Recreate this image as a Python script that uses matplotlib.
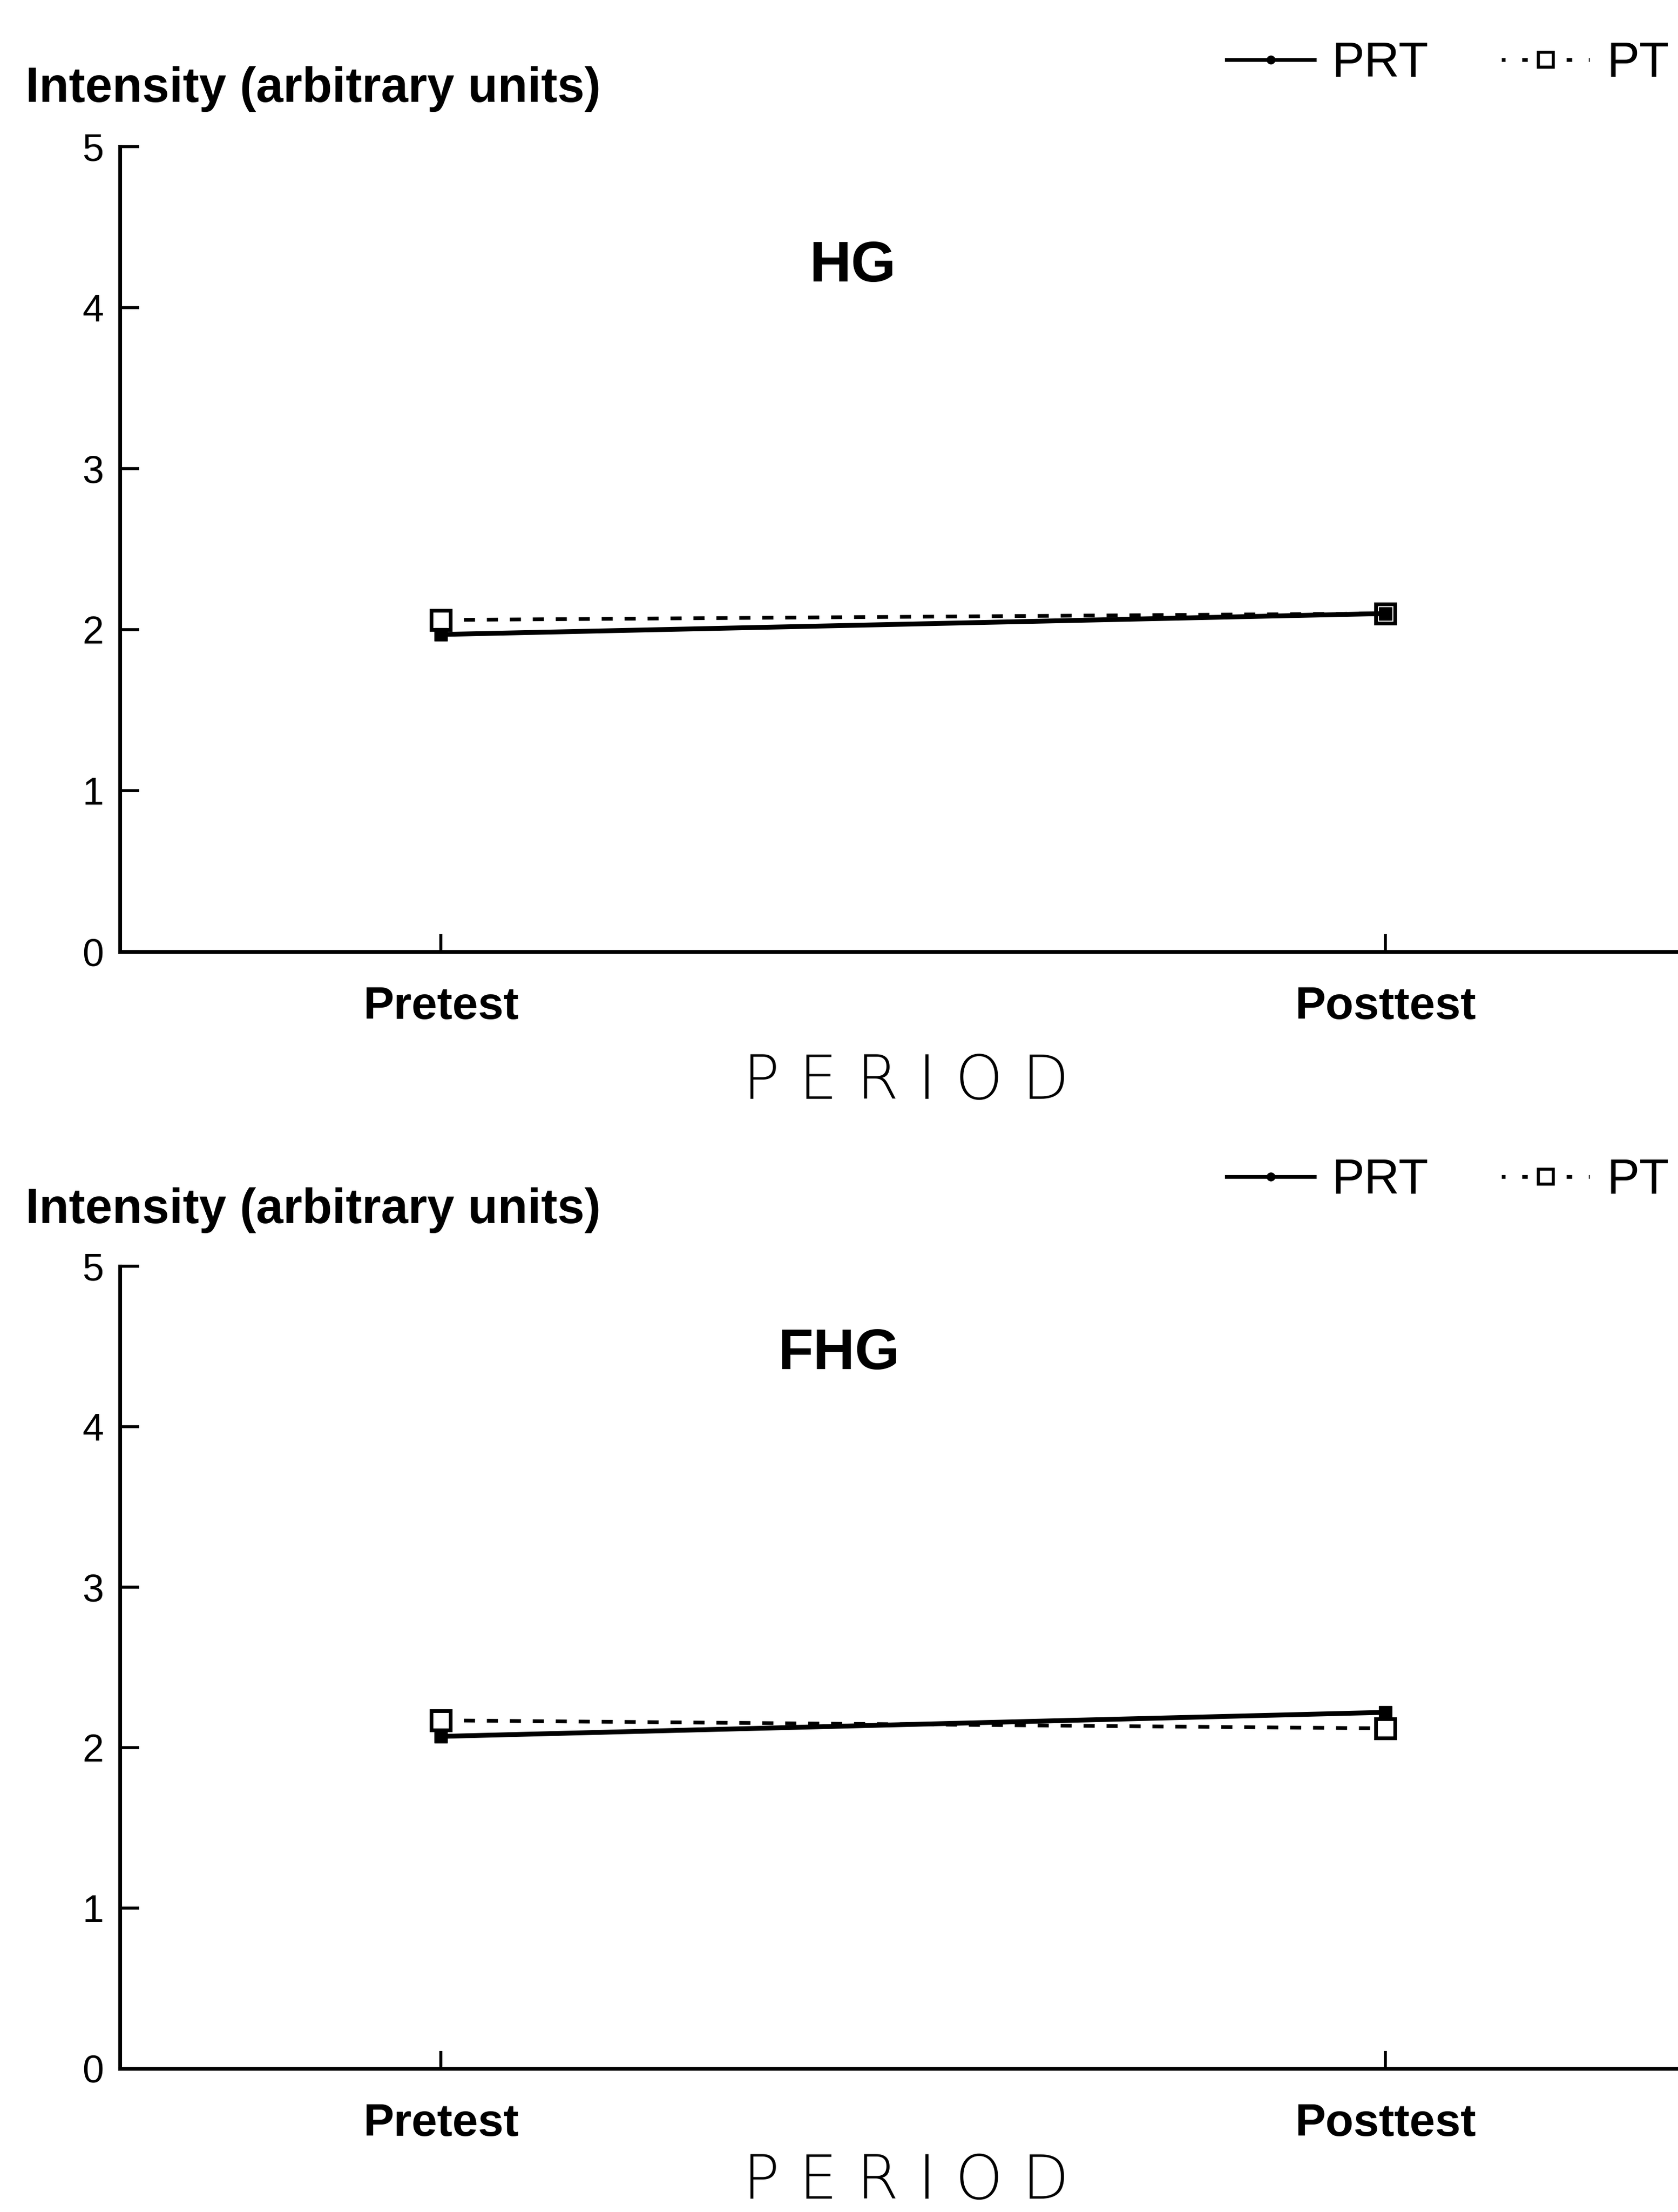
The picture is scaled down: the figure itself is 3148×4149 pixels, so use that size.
import matplotlib
matplotlib.use("Agg")
import matplotlib.pyplot as plt
from matplotlib import font_manager
from matplotlib.lines import Line2D

# ---- data ----
periods = ["Pretest", "Posttest"]
panels = ["HG", "FHG"]
prt_hg = [1.97, 2.10]
pt_hg = [2.06, 2.10]
prt_fhg = [2.07, 2.22]
pt_fhg = [2.17, 2.12]
yticks = [0, 1, 2, 3, 4, 5]
series_names = ["PRT", "PT"]
ylabel_text = "Intensity (arbitrary units)"
xlabel_text = "P E R I O D"

avail = {f.name for f in font_manager.fontManager.ttflist}
narrow = "Liberation Sans Narrow" if "Liberation Sans Narrow" in avail else "Liberation Sans"
plt.rcParams["font.family"] = ["Liberation Sans", "DejaVu Sans"]

W, H = 3148, 4149
fig = plt.figure(figsize=(W / 100, H / 100), dpi=100)

def fx(px):
    return px / W

def fy(py):
    return 1 - py / H

layouts = [
    dict(y0=1785, y5=275, title=(1600, 500), ylab=167, leg=120, per=2030,
         prt=prt_hg, pt=pt_hg, name=panels[0]),
    dict(y0=3880, y5=2375, title=(1574, 2540), ylab=2270, leg=2215, per=4092,
         prt=prt_fhg, pt=pt_fhg, name=panels[1]),
]

x_left, x_right = 225, 3148
for L in layouts:
    ax = fig.add_axes([fx(x_left), fy(L["y0"]), fx(x_right - x_left),
                       (L["y0"] - L["y5"]) / H])
    xs = list(range(len(periods)))
    ax.plot(xs, L["pt"], linestyle=(0, (3, 3.2)), color="black", lw=5,
            marker="s", markersize=26, markerfacecolor="white",
            markeredgecolor="black", markeredgewidth=5, zorder=3,
            label=series_names[1])
    ax.plot(xs, L["prt"], linestyle="-", color="black", lw=6.5,
            marker="s", markersize=17, markerfacecolor="black",
            markeredgecolor="black", zorder=4, label=series_names[0])
    ax.set_xlim(-0.34, 1.31)
    ax.set_ylim(0, 5)
    ax.set_yticks(yticks)
    ax.set_yticklabels([str(v) for v in yticks], fontsize=52)
    ax.set_xticks(xs)
    ax.set_xticklabels(periods, fontsize=62, fontweight="bold")
    ax.tick_params(axis="y", direction="in", length=26, width=4, pad=22)
    ax.tick_params(axis="x", direction="in", length=24, width=4, pad=46)
    for s in ["top", "right"]:
        ax.spines[s].set_visible(False)
    for s in ["left", "bottom"]:
        ax.spines[s].set_linewidth(5)
    ax.set_facecolor("none")

    fig.text(fx(L["title"][0]), fy(L["title"][1]), L["name"], fontsize=78,
             fontweight="bold", ha="center", va="center")
    fig.text(fx(48), fy(L["ylab"]), ylabel_text, fontsize=66,
             fontweight="bold", ha="left", va="center")
    fig.text(fx(1700), fy(L["per"]), xlabel_text, fontsize=82,
             ha="center", va="center", family=["DejaVu Sans"], fontweight="light")

    h_prt = Line2D([], [], color="black", lw=5, marker="o", markersize=11)
    h_pt = Line2D([], [], color="black", lw=5, linestyle=(0.5, (1.5, 4.5)),
                  marker="s", markersize=20, markerfacecolor="white",
                  markeredgewidth=4)
    fig.legend([h_prt, h_pt], series_names, loc="center left",
               bbox_to_anchor=(fx(2301), fy(L["leg"])), ncol=2, frameon=False,
               prop=dict(family=narrow, size=66), handlelength=1.8,
               handletextpad=0.35, columnspacing=1.5, borderpad=0,
               borderaxespad=0)

fig.savefig("out.png", dpi=100, facecolor="white")
